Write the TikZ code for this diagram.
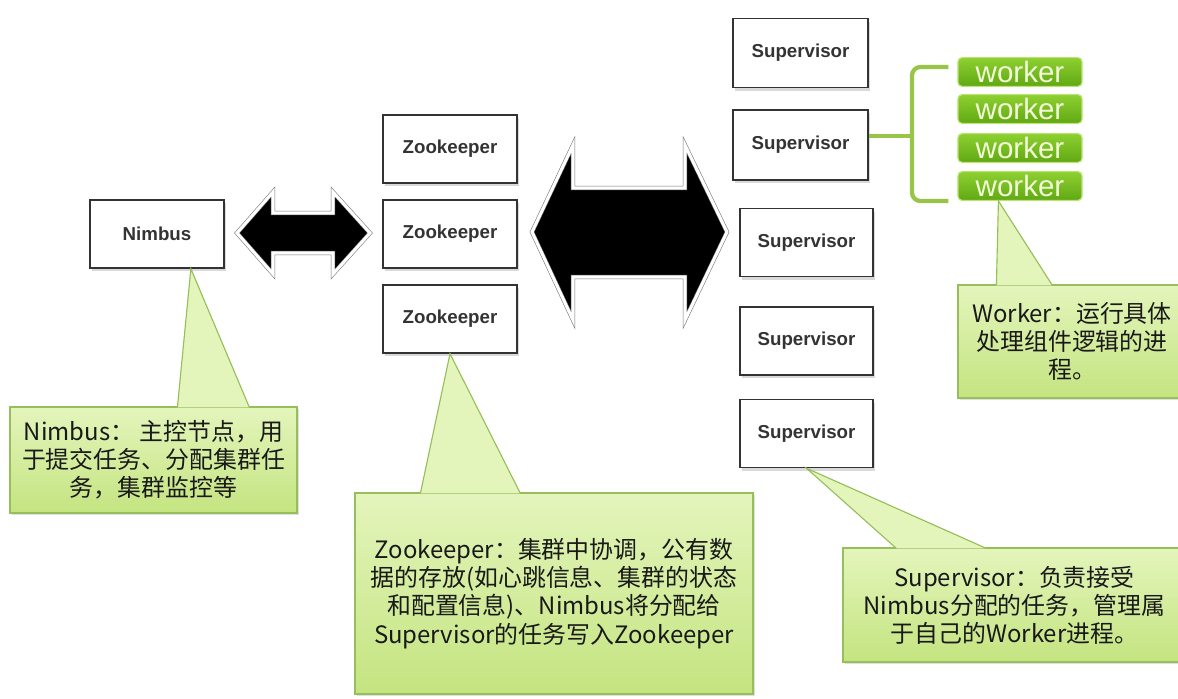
\documentclass[tikz,border=0pt]{standalone}
\usepackage{fontspec}
\setmainfont{Liberation Sans}
\newfontfamily\cjk{Noto Sans CJK SC}
\usepackage{tikz}
\usetikzlibrary{positioning,calc,shadows}
\definecolor{notetop}{RGB}{228,245,188}
\definecolor{notebot}{RGB}{196,228,128}
\definecolor{noteline}{RGB}{150,190,90}
\definecolor{wtop}{RGB}{142,208,48}
\definecolor{wbot}{RGB}{96,168,20}
\definecolor{wline}{RGB}{185,228,110}
\definecolor{wtext}{RGB}{242,250,215}
\definecolor{brkgreen}{RGB}{152,196,72}

\begin{document}
\begin{tikzpicture}[x=0.025cm, y=-0.025cm,
  nbox/.style={rectangle, draw=black!80, line width=1pt, fill=white,
               minimum width=3.35cm, minimum height=1.7cm,
               font=\fontsize{13.3}{16}\selectfont\bfseries, text=black!80,
               drop shadow={opacity=0.3, shadow xshift=0.06cm, shadow yshift=-0.08cm}},
  wbox/.style={rectangle, rounded corners=3pt, draw=wline, line width=0.8pt,
               top color=wtop, bottom color=wbot, minimum width=3.1cm, minimum height=0.72cm,
               inner sep=0pt, font=\fontsize{21}{21}\selectfont, text=wtext},
  cnote/.style={rectangle, draw=noteline, line width=0.8pt,
                top color=notetop, bottom color=notebot, align=center,
                font=\cjk\fontsize{17}{20}\selectfont, text=black!90,
                drop shadow={opacity=0.25, shadow xshift=0.04cm, shadow yshift=-0.06cm}},
  cptr/.style={fill=notetop, draw=noteline, line width=0.8pt},
  narr/.style={fill=black, draw=black!55, double=white, double distance=2.2pt, line join=miter},
  brk/.style={draw=brkgreen, line width=3pt, rounded corners=6pt}
]
\useasboundingbox (0,0) rectangle (1178,698);

% Nimbus and Zookeeper boxes
\node[nbox] (nimbus) at (157,234) {Nimbus};
\node[nbox] (zk1) at (450,149) {Zookeeper};
\node[nbox] (zk2) at (450,234) {Zookeeper};
\node[nbox] (zk3) at (450,319) {Zookeeper};

% Supervisor boxes
\node[nbox, minimum width=3.375cm, minimum height=1.72cm] (sup1) at (800.5,53)    {Supervisor};
\node[nbox, minimum width=3.375cm, minimum height=1.75cm] (sup2) at (800.5,145)   {Supervisor};
\node[nbox, minimum width=3.325cm]                        (sup3) at (806.5,242.5) {Supervisor};
\node[nbox, minimum width=3.325cm]                        (sup4) at (806.5,341)   {Supervisor};
\node[nbox, minimum width=3.325cm]                        (sup5) at (806.5,433.5) {Supervisor};

% Workers
\node[wbox] (w1) at (1020,72)  {worker};
\node[wbox] (w2) at (1020,109) {worker};
\node[wbox] (w3) at (1020,148) {worker};
\node[wbox] (w4) at (1020,186) {worker};

% Bracket from the Supervisor to its workers
\coordinate (bk) at (912,136);
\draw[brk] ($(w1.west)+(-9,-5)$) -| (bk) |- ($(w4.west)+(-9,15)$);
\draw[brk] (sup2.east |- bk) -- (bk);

% Block arrows
\draw[narr] (237,233) -- (273,192) -- (273,213) -- (333,213) -- (333,192) -- (370,233)
  -- (333,274) -- (333,253) -- (273,253) -- (273,274) -- cycle;
\draw[narr] (532,232) -- (573,145) -- (573,188) -- (685,188) -- (685,145) -- (727,232)
  -- (685,320) -- (685,277) -- (573,277) -- (573,320) -- cycle;

% Callouts
\node[cnote, minimum width=7.175cm, minimum height=2.65cm] (nimbusnote) at (153.5,460)
  {Nimbus： 主控节点，用\\于提交任务、分配集群任\\务，集群监控等};
\node[cnote, minimum width=9.95cm, minimum height=5.025cm] (zknote) at (554,593.5)
  {Zookeeper：集群中协调，公有数\\据的存放(如心跳信息、集群的状态\\和配置信息)、Nimbus将分配给\\Supervisor的任务写入Zookeeper};
\node[cnote, minimum width=8.575cm, minimum height=2.85cm] (supnote) at (1014.5,605)
  {Supervisor：负责接受\\Nimbus分配的任务，管理属\\于自己的Worker进程。};
\node[cnote, minimum width=5.7cm, minimum height=2.825cm] (wnote) at (1072,341.5)
  {Worker：运行具体\\处理组件逻辑的进\\程。};

% Callout pointers
\draw[cptr] ($(nimbusnote.north west)+(168,1)$) -- ($(nimbus.south west)!0.75!(nimbus.south east)$)
  -- ($(nimbusnote.north west)+(240,1)$);
\draw[cptr] ($(zknote.north west)+(66,1)$) -- (zk3.south) -- ($(zknote.north west)+(166,1)$);
\draw[cptr] ($(supnote.north west)+(54,1)$) -- (sup5.south) -- ($(supnote.north west)+(144,1)$);
\draw[cptr] ($(wnote.north west)+(39,1)$) -- ($(w4.south west)+(41,0)$) -- ($(wnote.north west)+(95,1)$);
\end{tikzpicture}
\end{document}
